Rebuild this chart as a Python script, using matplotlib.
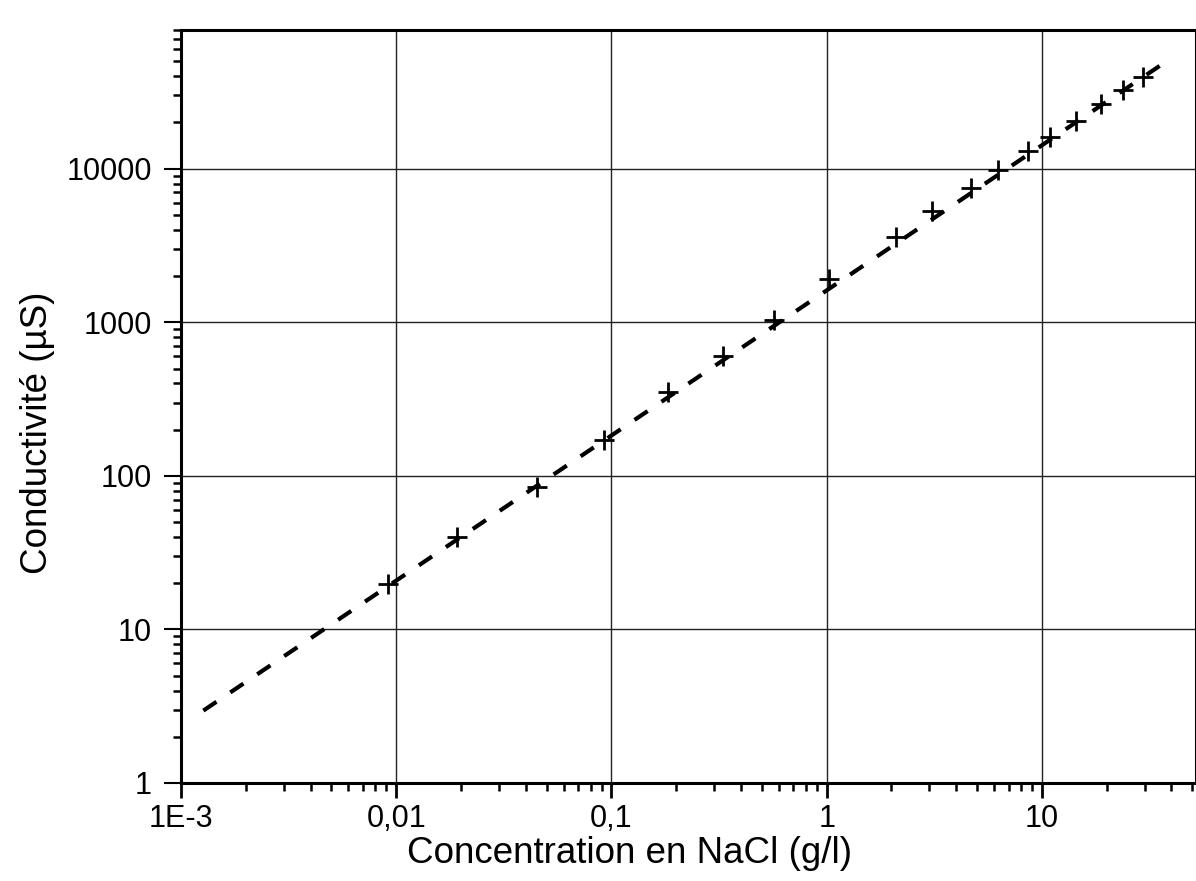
import matplotlib
matplotlib.use("Agg")
import matplotlib.pyplot as plt
from matplotlib.ticker import LogLocator, FixedLocator, FixedFormatter, NullFormatter

# valeurs
concentration = [0.0092, 0.0192, 0.045, 0.092, 0.184, 0.33, 0.567, 1.02, 2.1, 3.1,
                 4.68, 6.27, 8.58, 10.9, 14.4, 18.9, 23.7, 29.4]
conductivite = [19.8, 40, 85, 172, 352, 605, 1040, 1900, 3600, 5280,
                7480, 9750, 13000, 16200, 20400, 26200, 32600, 39400]

# droite d'ajustement (extremites)
fit_x = [1.27e-3, 40.3]
fit_y = [2.96, 53000]

x_ticks = [1e-3, 1e-2, 1e-1, 1, 10]
x_labels = ["1E-3", "0,01", "0,1", "1", "10"]
y_ticks = [1, 10, 100, 1000, 10000]
y_labels = ["1", "10", "100", "1000", "10000"]

plt.rcParams["font.family"] = ["Liberation Sans", "DejaVu Sans"]

fig = plt.figure(figsize=(11.96, 8.81), dpi=100)
ax = fig.add_axes([181 / 1196, 1 - 783 / 881, 1015 / 1196, 753 / 881])

ax.plot(fit_x, fit_y, color="black", lw=3, linestyle=(0, (3.8, 4.0)), zorder=3)
ax.plot(concentration, conductivite, linestyle="none", marker="+", ms=15, mew=2,
        color="black", zorder=4)

ax.set_xscale("log")
ax.set_yscale("log")
ax.set_xlim(1e-3, 52)
ax.set_ylim(1, 80000)

ax.xaxis.set_major_locator(FixedLocator(x_ticks))
ax.xaxis.set_major_formatter(FixedFormatter(x_labels))
ax.yaxis.set_major_locator(FixedLocator(y_ticks))
ax.yaxis.set_major_formatter(FixedFormatter(y_labels))
ax.xaxis.set_minor_locator(LogLocator(base=10, subs=range(2, 10), numticks=20))
ax.yaxis.set_minor_locator(LogLocator(base=10, subs=range(2, 10), numticks=20))
ax.xaxis.set_minor_formatter(NullFormatter())
ax.yaxis.set_minor_formatter(NullFormatter())

ax.tick_params(axis="x", which="major", direction="out", length=11, width=2,
               labelsize=22, pad=4)
ax.tick_params(axis="y", which="major", direction="out", length=12, width=1.5,
               labelsize=22, pad=9)
ax.tick_params(which="minor", direction="out", length=5.5, width=1.8)

ax.grid(True, which="major", color="#222222", lw=1.0)
for s in ax.spines.values():
    s.set_linewidth(2.2)

ax.set_xlabel("Concentration en NaCl (g/l)", fontsize=26.5)
ax.xaxis.set_label_coords(0.442, -0.071)
ax.set_ylabel("Conductivité (µS)", fontsize=26.5)
ax.yaxis.set_label_coords(-0.124, 0.465)

fig.savefig("out.png", dpi=100)
